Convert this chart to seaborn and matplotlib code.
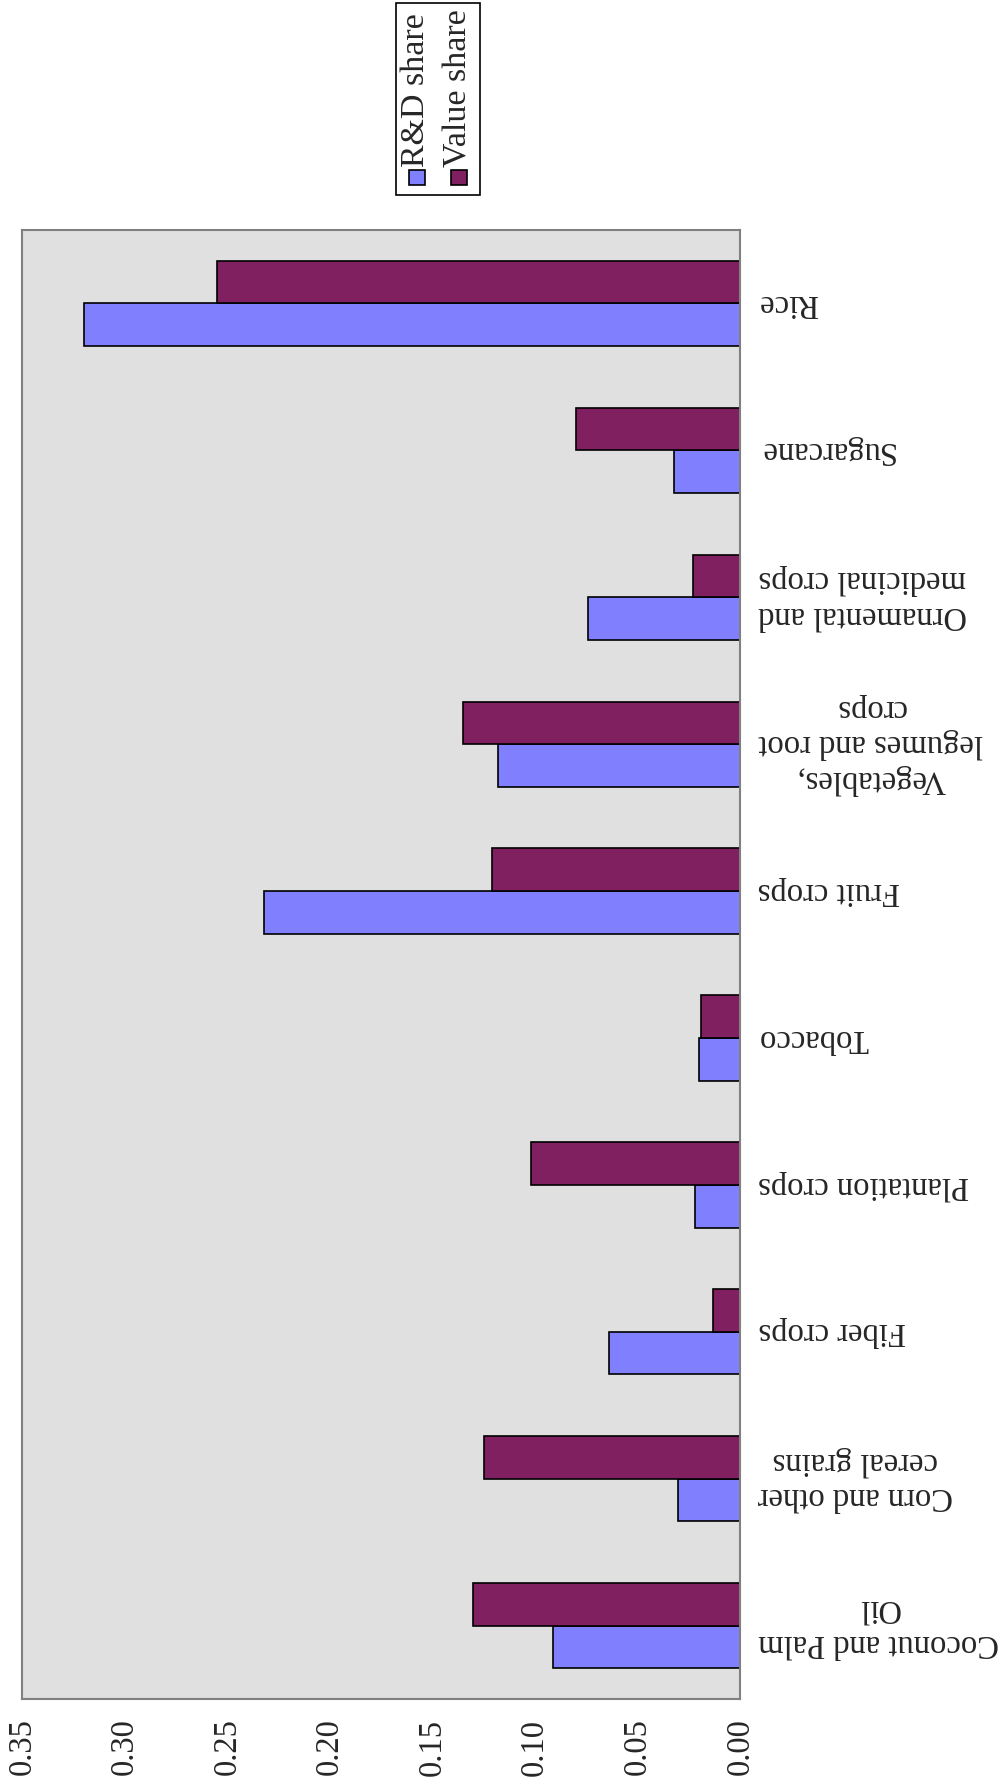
import numpy as np
import pandas as pd
import matplotlib
matplotlib.use("Agg")
import matplotlib.pyplot as plt
from matplotlib.patches import Rectangle
import seaborn as sns

# Crop categories (first one sits at the bottom of the chart)
crops = [
    "Coconut and Palm\nOil",
    "Corn and other\ncereal grains",
    "Fiber crops",
    "Plantation crops",
    "Tobacco",
    "Fruit crops",
    "Vegetables,\nlegumes and root\ncrops",
    "Ornamental and\nmedicinal crops",
    "Sugarcane",
    "Rice",
]
rd_share = [0.091, 0.030, 0.064, 0.022, 0.020, 0.232, 0.118, 0.074, 0.032, 0.320]
value_share = [0.130, 0.125, 0.013, 0.102, 0.019, 0.121, 0.135, 0.023, 0.080, 0.255]
series_names = ["R&D share", "Value share"]
series_colors = ["#8080FF", "#802060"]
x_ticks = [0.00, 0.05, 0.10, 0.15, 0.20, 0.25, 0.30, 0.35]

df = pd.DataFrame({
    "crop": crops * 2,
    "share": rd_share + value_share,
    "series": [series_names[0]] * len(crops) + [series_names[1]] * len(crops),
})

sns.set_theme(style="white")
plt.rcParams["font.family"] = ["Liberation Serif", "DejaVu Serif"]

fig = plt.figure(figsize=(10, 17.87), dpi=100)
ax = fig.add_axes([0.022, 0.0492, 0.718, 0.8221])

sns.barplot(
    data=df, y="crop", x="share", hue="series",
    order=crops, hue_order=series_names, palette=series_colors,
    orient="h", width=0.58, edgecolor="black", linewidth=1.2,
    saturation=1, legend=False, ax=ax,
)
ax.invert_yaxis()

ax.set_facecolor("#E0E0E0")
for sp in ax.spines.values():
    sp.set_color("#808080")
    sp.set_linewidth(1.5)

ax.set_xlim(0.35, 0)
ax.set_xticks(x_ticks)
ax.set_xticklabels([f"{t:.2f}" for t in x_ticks], rotation=90, fontsize=23.5)
ax.set_xlabel("")
ax.set_ylabel("")

ax.yaxis.tick_right()
ax.tick_params(axis="y", length=0, pad=13, labelsize=23.5)
ax.tick_params(axis="x", length=0, pad=14)
for lbl in ax.get_yticklabels():
    lbl.set_rotation(180)
    lbl.set_ha("left")
    lbl.set_va("center")
    lbl.set_multialignment("center")

# Legend box with rotated entries
fig.add_artist(Rectangle((0.396, 0.8909), 0.084, 0.1074, transform=fig.transFigure,
                         facecolor="white", edgecolor="black", linewidth=1.2))
for i, (name, col) in enumerate(zip(series_names, series_colors)):
    x0 = 0.409 + i * 0.042
    fig.add_artist(Rectangle((x0, 0.8965), 0.016, 0.0084, transform=fig.transFigure,
                             facecolor=col, edgecolor="black", linewidth=1.2))
    fig.text(x0 + 0.007, 0.9067, name, rotation=90, ha="center", va="bottom",
             fontsize=24.5)

fig.savefig("out.png", dpi=100)
plt.close(fig)
